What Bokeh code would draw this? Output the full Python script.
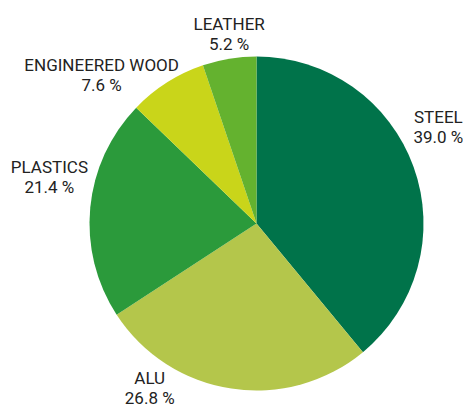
import math
from bokeh.plotting import figure
from bokeh.models import ColumnDataSource, Range1d
from bokeh.core.properties import value
from bokeh.embed import file_html
from bokeh.resources import INLINE

# ---- data ----
materials = ["STEEL", "ALU", "PLASTICS", "ENGINEERED WOOD", "LEATHER"]
shares = [39.0, 26.8, 21.4, 7.6, 5.2]
colors = ["#00734a", "#b4c64b", "#2b9a3b", "#c9d51a", "#64b22f"]

# ---- layout/style ----
RADIUS = 167
LABEL_RADIUS = 205
# per-label nudges in screen pixels (dx, dy; dy positive = down)
label_nudge_x = [-11, -76, -3, -45, 6]
label_nudge_y = [-30, -41, -30, 22, 10]

total = sum(shares)
starts, ends, mids = [], [], []
cum = 0.0
for s in shares:
    a0 = math.pi / 2 - 2 * math.pi * cum / total
    cum += s
    a1 = math.pi / 2 - 2 * math.pi * cum / total
    starts.append(a0)
    ends.append(a1)
    mids.append((a0 + a1) / 2)

lx = [LABEL_RADIUS * math.cos(m) for m in mids]
ly = [LABEL_RADIUS * math.sin(m) for m in mids]
pct = [f"{s:.1f} %" for s in shares]

src = ColumnDataSource(dict(start=starts, end=ends, color=colors,
                            lx=lx, ly=ly, name=materials, pct=pct,
                            nx=label_nudge_x,
                            ny1=[n - 7 for n in label_nudge_y],
                            ny2=[n + 13 for n in label_nudge_y]))

p = figure(width=463, height=410, output_backend="svg", toolbar_location=None,
           x_range=Range1d(-256, 207), y_range=Range1d(-187, 223),
           x_axis_type=None, y_axis_type=None,
           min_border=0, min_border_left=0, min_border_right=0,
           min_border_top=0, min_border_bottom=0)
p.outline_line_color = None
p.grid.visible = False
p.background_fill_color = "white"
p.border_fill_color = "white"

p.wedge(x=0, y=0, radius=RADIUS, start_angle="start", end_angle="end",
        direction="clock", fill_color="color", line_color=None, source=src)

p.text(x="lx", y="ly", text="name", x_offset="nx", y_offset="ny1", source=src,
       text_align="center", text_baseline="alphabetic",
       text_font=value("Roboto"), text_font_size="17px", text_color="#222222")
p.text(x="lx", y="ly", text="pct", x_offset="nx", y_offset="ny2", source=src,
       text_align="center", text_baseline="alphabetic",
       text_font=value("Roboto"), text_font_size="17px", text_color="#222222")

open("out.html", "w").write(file_html(p, INLINE))
